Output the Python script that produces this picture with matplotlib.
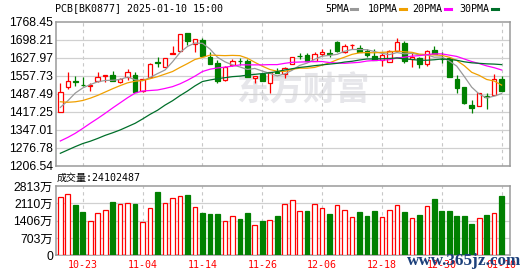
import matplotlib
matplotlib.use('Agg')
import matplotlib.pyplot as plt
from matplotlib.lines import Line2D

# ---- data (PCB[BK0877], daily) ----
opens = [1415, 1514, 1537, 1522, 1516, 1538, 1557, 1562, 1533, 1554,
         1562, 1498, 1551, 1610, 1593, 1644, 1655, 1723, 1683, 1696,
         1632, 1608, 1540, 1600, 1616, 1617, 1550, 1563, 1528, 1573,
         1564, 1603, 1635, 1638, 1616, 1642, 1646, 1689, 1651, 1677,
         1666, 1654, 1634, 1619, 1612, 1653, 1684, 1623, 1626, 1602,
         1658, 1624, 1628, 1545, 1515, 1443, 1439, 1477, 1481, 1543]
highs = [1528, 1571, 1556, 1551, 1529, 1573, 1562, 1576, 1550, 1585,
         1573, 1543, 1606, 1629, 1627, 1674, 1722, 1723, 1699, 1703,
         1651, 1618, 1594, 1621, 1625, 1622, 1558, 1570, 1573, 1589,
         1593, 1629, 1645, 1645, 1651, 1660, 1660, 1694, 1681, 1681,
         1677, 1661, 1660, 1649, 1658, 1703, 1692, 1645, 1630, 1658,
         1673, 1649, 1630, 1560, 1515, 1463, 1489, 1489, 1563, 1556]
lows = [1415, 1507, 1519, 1516, 1498, 1534, 1534, 1539, 1528, 1541,
        1495, 1495, 1549, 1593, 1593, 1642, 1655, 1676, 1651, 1635,
        1602, 1530, 1538, 1595, 1599, 1552, 1528, 1539, 1491, 1567,
        1548, 1603, 1621, 1616, 1616, 1634, 1630, 1651, 1647, 1662,
        1651, 1632, 1619, 1595, 1612, 1653, 1608, 1593, 1586, 1597,
        1642, 1608, 1551, 1491, 1446, 1413, 1439, 1427, 1481, 1499]
closes = [1493, 1536, 1535, 1520, 1522, 1551, 1562, 1539, 1543, 1572,
          1495, 1543, 1603, 1608, 1627, 1646, 1720, 1694, 1699, 1635,
          1602, 1538, 1592, 1616, 1614, 1552, 1558, 1539, 1571, 1567,
          1589, 1629, 1633, 1616, 1642, 1650, 1644, 1654, 1673, 1679,
          1651, 1640, 1619, 1637, 1654, 1688, 1616, 1632, 1605, 1654,
          1642, 1622, 1551, 1508, 1450, 1433, 1489, 1475, 1543, 1499]

ma5 = [1434, 1460, 1490, 1510, 1523, 1534, 1539, 1540, 1543, 1553,
       1542, 1538, 1551, 1566, 1580, 1612, 1648, 1672, 1685, 1684,
       1662, 1630, 1612, 1600, 1592, 1582, 1586, 1576, 1567, 1557,
       1565, 1579, 1598, 1607, 1622, 1634, 1637, 1641, 1653, 1660,
       1660, 1659, 1652, 1645, 1640, 1648, 1643, 1645, 1639, 1639,
       1630, 1631, 1615, 1595, 1555, 1513, 1486, 1471, 1478, 1488]
ma10 = [1456, 1454, 1456, 1461, 1470, 1481, 1494, 1507, 1519, 1530,
        1536, 1539, 1546, 1554, 1564, 1574, 1590, 1605, 1621, 1629,
        1638, 1637, 1636, 1637, 1636, 1626, 1610, 1595, 1582, 1575,
        1574, 1583, 1587, 1587, 1590, 1599, 1608, 1620, 1630, 1641,
        1647, 1648, 1647, 1649, 1650, 1654, 1651, 1649, 1642, 1640,
        1639, 1637, 1630, 1617, 1597, 1571, 1559, 1543, 1537, 1521]
ma20 = [1303, 1317, 1333, 1352, 1372, 1391, 1411, 1432, 1452, 1472,
        1490, 1498, 1500, 1502, 1508, 1515, 1526, 1540, 1556, 1574,
        1583, 1588, 1591, 1595, 1600, 1600, 1600, 1600, 1601, 1601,
        1606, 1610, 1611, 1612, 1613, 1613, 1609, 1607, 1606, 1608,
        1610, 1615, 1617, 1618, 1620, 1627, 1630, 1634, 1636, 1640,
        1643, 1643, 1638, 1633, 1623, 1613, 1605, 1596, 1589, 1580]
ma30 = [1255, 1268, 1281, 1293, 1302, 1313, 1325, 1335, 1346, 1359,
        1372, 1389, 1407, 1423, 1443, 1460, 1480, 1498, 1518, 1535,
        1541, 1546, 1550, 1554, 1556, 1560, 1563, 1566, 1569, 1574,
        1580, 1585, 1590, 1593, 1597, 1600, 1603, 1606, 1611, 1614,
        1619, 1623, 1623, 1624, 1625, 1627, 1623, 1621, 1618, 1618,
        1620, 1623, 1621, 1618, 1612, 1608, 1606, 1604, 1603, 1601]

# volume in 万
volume = [2362, 2481, 2057, 1738, 1407, 1725, 1845, 2176, 2084, 2123,
          2097, 1367, 1924, 2561, 2123, 2322, 2402, 2455, 1964, 1699,
          1659, 1659, 1407, 1606, 1460, 1699, 1247, 1380, 1447, 1579,
          2084, 2243, 1805, 1778, 2084, 1924, 1659, 2044, 1845, 1566,
          1738, 1579, 1818, 1566, 1845, 2044, 1738, 1526, 1619, 2004,
          2296, 1778, 1818, 1579, 1579, 1261, 1526, 1619, 1725, 2410]
vol_up = [1, 1, 0, 0, 1, 1, 1, 0, 1, 1, 0, 1, 1, 0, 1, 1, 1, 0, 1, 0,
          0, 0, 1, 1, 0, 0, 1, 0, 1, 0, 1, 1, 1, 0, 1, 1, 0, 1, 1, 1,
          0, 0, 0, 1, 1, 1, 0, 1, 0, 1, 0, 0, 0, 0, 0, 0, 1, 0, 1, 0]

price_ticks = ['1206.54', '1276.78', '1347.01', '1417.25', '1487.49',
               '1557.73', '1627.97', '1698.21', '1768.45']
vol_ticks = [0, 703, 1406, 2110, 2813]
date_pos = [3, 11, 19, 27, 35, 43, 51, 59]
date_labels = ['10-23', '11-04', '11-14', '11-26', '12-06', '12-18', '12-30', '01-10']

RED = '#ff0000'
GREEN = '#008000'
W, H = 530, 276
MONO = ['DejaVu Sans Mono', 'Noto Sans CJK SC']
NUM = ['Liberation Sans', 'Noto Sans CJK SC']


def fx(px):
    return px / W


def fy(py):
    return 1 - py / H


fig = plt.figure(figsize=(5.3, 2.76), dpi=100)
fig.patch.set_facecolor('white')

ax = fig.add_axes([fx(55.7), fy(165.7), fx(510 - 55.7), (165.7 - 21.7) / H])
axv = fig.add_axes([fx(55.7), fy(255.3), fx(510 - 55.7), (255.3 - 186) / H])

x = list(range(len(closes)))
for a in (ax, axv):
    a.set_xlim(-0.62, 60.12)
    for s in a.spines.values():
        s.set_color('#9a9a9a')
        s.set_linewidth(1.1)
    a.set_axisbelow(True)
    a.tick_params(length=0, pad=2)
    a.set_xticks(date_pos)
    for p in date_pos:
        a.axvline(p, color='#c8c8c8', lw=0.8, ls=(0, (3, 3)), zorder=0.6)

# ---- price panel ----
pvals = [float(t) for t in price_ticks]
ax.set_ylim(pvals[0], pvals[-1])
ax.set_yticks(pvals)
ax.set_yticklabels(price_ticks, family=NUM, fontsize=8.8)
ax.set_xticklabels([])
for v in pvals[1:-1]:
    ax.axhline(v, color='#d0d0d0', lw=0.9, zorder=0.6)

ax.text(0.545, 0.52, '东方财富', transform=ax.transAxes, ha='center', va='center',
        fontsize=24, fontweight='bold', color='#e6e6ea', family=['Noto Sans CJK SC'],
        zorder=0.5)

up = [c >= o for o, c in zip(opens, closes)]
colors = [RED if u else GREEN for u in up]
ax.vlines(x, lows, highs, colors=colors, lw=0.9, zorder=2)
bottoms = [min(o, c) for o, c in zip(opens, closes)]
heights = [max(abs(c - o), 0.8) for o, c in zip(opens, closes)]
faces = ['white' if u else GREEN for u in up]
ax.bar(x, heights, bottom=bottoms, width=0.6, color=faces, edgecolor=colors,
       linewidth=0.9, zorder=3)

ax.plot(x, ma5, color='#999999', lw=0.9, zorder=4)
ax.plot(x, ma10, color='#f0a000', lw=0.9, zorder=4)
ax.plot(x, ma20, color='#ff00ff', lw=0.9, zorder=4)
ax.plot(x, ma30, color='#006f2a', lw=0.9, zorder=4)

# ---- volume panel ----
axv.set_ylim(0, vol_ticks[-1])
axv.set_yticks(vol_ticks)
axv.set_yticklabels([str(v) if v == 0 else f'{v}万' for v in vol_ticks],
                    family=NUM, fontsize=8.8)
for v in vol_ticks[1:-1]:
    axv.axhline(v, color='#d0d0d0', lw=0.9, zorder=0.6)
vcol = [RED if u else GREEN for u in vol_up]
vface = ['white' if u else GREEN for u in vol_up]
axv.bar(x, volume, width=0.62, color=vface, edgecolor=vcol, linewidth=0.9, zorder=3)
axv.set_xticklabels(date_labels, family=MONO, fontsize=7.2, color=RED)
axv.tick_params(axis='x', pad=3.5)

# ---- header texts ----
fig.text(fx(55), fy(8.5), 'PCB[BK0877] 2025-01-10 15:00', family=MONO,
         fontsize=7.2, va='center', ha='left')
fig.text(fx(57), fy(177.7), '成交量:24102487', family=MONO,
         fontsize=7.2, va='center', ha='left')

legend_items = [('5PMA', 325.7, 350.7, '#999999'),
                ('10PMA', 367.3, 400.0, '#f0a000'),
                ('20PMA', 412.7, 445.0, '#ff00ff'),
                ('30PMA', 459.0, 492.3, '#006f2a')]
for name, tx, lx, c in legend_items:
    fig.text(fx(tx), fy(9), name, family=MONO, fontsize=7.2, va='center', ha='left')
    fig.add_artist(Line2D([fx(lx), fx(lx + 6)], [fy(9), fy(9)], color=c, lw=2.2,
                          transform=fig.transFigure))

fig.text(fx(407), fy(261), 'www.365jz.com', family=['Liberation Serif'],
         fontweight='bold', fontsize=12.3, color='#1b3f7a', va='center', ha='left',
         zorder=10)

fig.savefig('out.png', dpi=100)
